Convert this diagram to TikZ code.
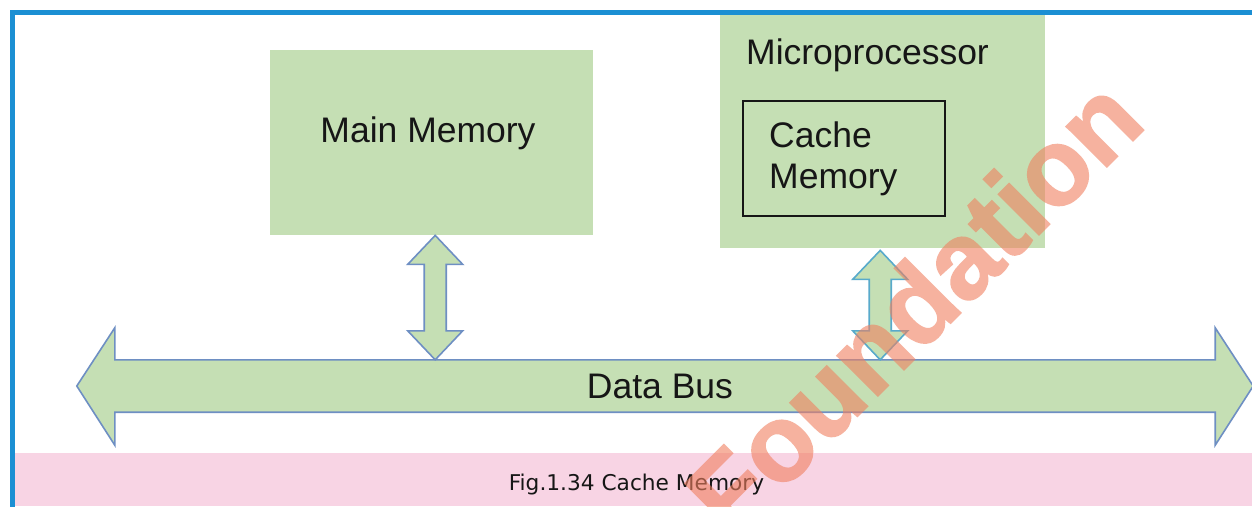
\documentclass[tikz,border=0pt]{standalone}
\usepackage{fontspec}
\setmainfont{Liberation Sans}
\newfontfamily\capfont{DejaVu Sans}
\newfontfamily\wmfont{Liberation Sans Bold}[FakeBold=1.6]
\usetikzlibrary{calc}

\definecolor{frameblue}{HTML}{1B8FD3}
\definecolor{boxgreen}{HTML}{C5DFB4}
\definecolor{busline}{HTML}{6E8FC3}
\definecolor{tealline}{HTML}{58AACB}
\definecolor{bandpink}{HTML}{F8D4E4}
\definecolor{inktext}{HTML}{161616}
\definecolor{wmorange}{HTML}{F08060}

\tikzset{
  greenbox/.style={fill=boxgreen, draw=none, inner sep=0pt, anchor=north west},
  cachebox/.style={draw=inktext, line width=2pt, inner sep=0pt, anchor=north west},
  bigtext/.style={font=\fontsize{35.5}{41}\selectfont, text=inktext, inner sep=0pt},
  captext/.style={font=\capfont\fontsize{21.7}{26}\selectfont, text=inktext, inner sep=0pt},
  busarrow/.style={fill=boxgreen, draw=busline, line width=1.6pt, line join=miter},
  linkarrow/.style={busarrow},
  linkarrowteal/.style={busarrow, draw=tealline},
  watermark/.style={text=wmorange, inner sep=0pt,
    font=\wmfont\fontsize{108}{110}\selectfont},
}

% vertical two-way arrow between a top tip (#2) and a bottom tip (#3)
\newcommand\twowayv[3]{%
  \filldraw[#1] (#2)
    -- ($(#2)+(27.5pt,-29pt)$) -- ($(#2)+(11pt,-29pt)$)
    -- ($(#3)+(11pt,29pt)$) -- ($(#3)+(27.5pt,29pt)$)
    -- (#3)
    -- ($(#3)+(-27.5pt,29pt)$) -- ($(#3)+(-11pt,29pt)$)
    -- ($(#2)+(-11pt,-29pt)$) -- ($(#2)+(-27.5pt,-29pt)$)
    -- cycle;}

\begin{document}
\begin{tikzpicture}[x=1pt,y=-1pt]
  \useasboundingbox (0,0) rectangle (1252,506);
  \clip (0,0) rectangle (1252,506);
  \fill[white] (0,0) rectangle (1252,506);

  % caption band
  \fill[bandpink] (15,453) rectangle (1252,506);
  \node[captext, anchor=base] (caption) at (636.5,490) {Fig.1.34 Cache Memory};

  % outer frame
  \draw[frameblue, line width=5pt, line join=miter] (12.5,520) -- (12.5,12.5) -- (1270,12.5);

  % blocks
  \node[greenbox, minimum width=323pt, minimum height=185pt] (mainmem) at (270,50) {};
  \node[bigtext, anchor=base] (mainlabel) at (428,142) {Main Memory};

  \node[greenbox, minimum width=325pt, minimum height=233pt] (cpu) at (720,15) {};
  \node[bigtext, anchor=base west] (cpulabel) at (746,64) {Microprocessor};

  \node[cachebox, minimum width=202pt, minimum height=115pt] (cache) at (742,100) {};
  \node[bigtext, anchor=base west] (cacheline1) at (769,147) {Cache};
  \node[bigtext, anchor=base west] (cacheline2) at (769,188) {Memory};

  % data bus
  \node[minimum width=1100pt, minimum height=52pt, inner sep=0pt] (bus) at (665,386) {};
  \filldraw[busarrow] (bus.north west) -- (bus.north east)
    -- ($(bus.north east)+(0,32pt)$) -- ($(bus.east)+(38pt,0)$)
    -- ($(bus.south east)+(0,-33pt)$) -- (bus.south east)
    -- (bus.south west) -- ($(bus.south west)+(0,-33pt)$)
    -- ($(bus.west)+(-38pt,0)$) -- ($(bus.north west)+(0,32pt)$) -- cycle;
  \node[bigtext] (buslabel) at (660,386) {Data Bus};

  % links from the blocks to the bus
  \coordinate (memtip) at ($(mainmem.south)+(3.5pt,0)$);
  \coordinate (membus) at (memtip |- bus.north);
  \twowayv{linkarrow}{memtip}{membus}

  \coordinate (cputip) at ($(cpu.south)+(-2.5pt,-2pt)$);
  \coordinate (cpubus) at (cputip |- bus.north);
  \twowayv{linkarrowteal}{cputip}{cpubus}

  % watermark, faded as one group
  \begin{scope}[transparency group, opacity=0.6]
    \node[watermark, rotate=45] (wm) at (913,306) {Foundation};
  \end{scope}
\end{tikzpicture}
\end{document}
